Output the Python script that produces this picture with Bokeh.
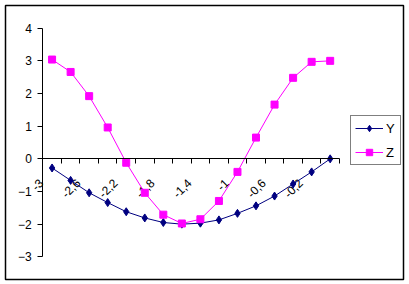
import math
from bokeh.plotting import figure
from bokeh.models import Range1d, FixedTicker, LinearAxis, Legend, LegendItem
from bokeh.core.properties import value
from bokeh.embed import file_html
from bokeh.resources import INLINE

# ---- data ----
categories = ["-3", "-2,8", "-2,6", "-2,4", "-2,2", "-2", "-1,8", "-1,6",
              "-1,4", "-1,2", "-1", "-0,8", "-0,6", "-0,4", "-0,2", "0"]
y_values = [-0.28, -0.66, -1.04, -1.34, -1.62, -1.81, -1.95, -2.00,
            -1.97, -1.87, -1.67, -1.44, -1.14, -0.77, -0.40, 0.00]
z_values = [3.04, 2.66, 1.92, 0.96, -0.12, -1.04, -1.71, -1.98,
            -1.85, -1.29, -0.40, 0.65, 1.66, 2.48, 2.97, 3.00]
y_ticks = [-3, -2, -1, 0, 1, 2, 3, 4]

FONT = "Liberation Sans"
n = len(categories)
xs = list(range(n))
label_idx = list(range(0, n, 2))
label_txt = [categories[i] for i in label_idx]

# frame = outer chart border; plot area is placed inside via ranges
p = figure(width=409, height=284, output_backend="svg", toolbar_location=None,
           x_range=Range1d(-2.512, 18.955), y_range=Range1d(-3.695, 4.695),
           x_axis_type=None, y_axis_type=None,
           min_border_left=5, min_border_right=6,
           min_border_top=5, min_border_bottom=5)
p.background_fill_color = "white"
p.border_fill_color = "white"
p.outline_line_color = "black"
p.outline_line_width = 1.5
p.xgrid.visible = False
p.ygrid.visible = False

# y axis
yax = LinearAxis(ticker=FixedTicker(ticks=y_ticks))
yax.fixed_location = -0.5
yax.bounds = (-3, 4)
yax.minor_tick_line_color = None
yax.major_tick_out = 5
yax.major_tick_in = 0
yax.major_label_standoff = 6
yax.major_label_text_font = FONT
yax.major_label_text_font_size = "12px"
yax.major_label_text_color = "black"
yax.axis_line_color = "black"
yax.major_tick_line_color = "black"
p.add_layout(yax, "left")

# x axis tick marks (between categories), crossing at y = 0
xtick = LinearAxis(ticker=FixedTicker(ticks=[i - 0.5 for i in range(n + 1)]))
xtick.fixed_location = 0
xtick.bounds = (-0.5, n - 0.5)
xtick.minor_tick_line_color = None
xtick.major_tick_out = 5
xtick.major_tick_in = 0
xtick.major_label_text_alpha = 0
xtick.axis_line_color = "black"
xtick.major_tick_line_color = "black"
p.add_layout(xtick, "below")

# rotated category labels (every other category)
lbl = p.text(x=label_idx, y=[0] * len(label_idx), text=label_txt,
             angle=math.pi / 4, x_offset=-11, y_offset=22,
             text_align="right", text_baseline="middle",
             text_font=value(FONT), text_font_size="12px", text_color="black")
lbl.level = "underlay"

# series
ly = p.line(xs, y_values, line_color="#000080", line_width=1)
sy = p.scatter(xs, y_values, marker="diamond", size=8, fill_color="#000080",
               line_color="#000080")
lz = p.line(xs, z_values, line_color="#FF00FF", line_width=1)
sz = p.scatter(xs, z_values, marker="square", size=7, fill_color="#FF00FF",
               line_color="#FF00FF")

legend = Legend(items=[LegendItem(label="Y", renderers=[ly, sy]),
                       LegendItem(label="Z", renderers=[lz, sz])],
                location=(345, 114), orientation="vertical",
                padding=4, spacing=8, glyph_height=16, label_height=16,
                glyph_width=28, label_width=10, label_standoff=3,
                label_text_font=FONT, label_text_font_size="13px",
                label_text_color="black",
                border_line_color="black", border_line_width=1,
                background_fill_color="white", background_fill_alpha=1)
p.add_layout(legend, "center")

open("out.html", "w").write(file_html(p, INLINE))
